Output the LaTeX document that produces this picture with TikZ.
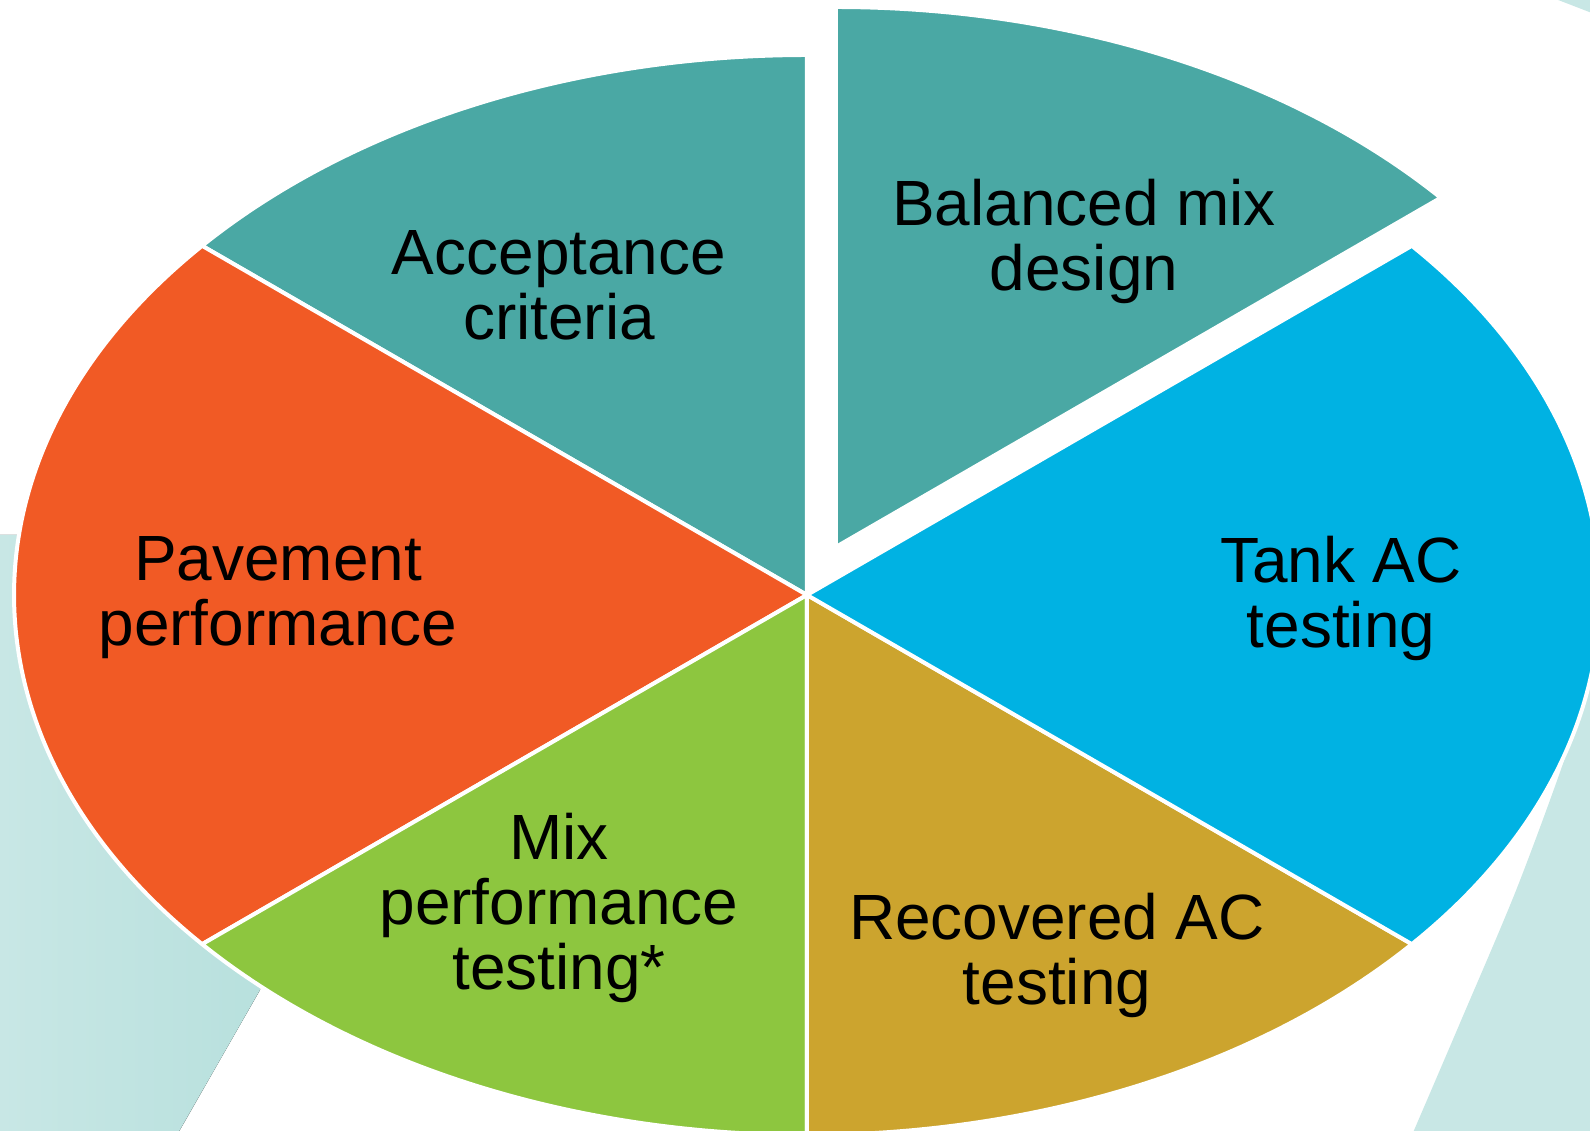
\documentclass[tikz,border=0pt]{standalone}
\usepackage{fontspec}
\setmainfont{Liberation Sans}

\definecolor{accteal}{HTML}{4AA8A4}
\definecolor{pavorange}{HTML}{F15A25}
\definecolor{mixgreen}{HTML}{8DC63F}
\definecolor{recgold}{HTML}{CCA42E}
\definecolor{tankblue}{HTML}{00B2E3}
\definecolor{ringlight}{HTML}{C8E7E5}
\definecolor{ringdark}{HTML}{B5DFDC}

\begin{document}
\begin{tikzpicture}[
x=0.02cm,
y=0.02cm,
slice/.style={
  draw=white,
  line width=0.08cm,
  line join=round
  },
ring/.style={
  fill=ringlight,
  draw=none
  },
lbl/.style={
  align=center,
  inner sep=0pt,
  font=\fontsize{36.4}{37}\selectfont
  }
]
\useasboundingbox (-807,-536) rectangle (783,595);
\clip (-807,-536) rectangle (783,595);

% ring behind the pie
\fill[left color=ringlight, right color=ringdark]
  (-807,60) -- (-500,60) -- (-547,-395) -- (-630,-540) -- (-807,-540) -- cycle;
\fill[ring] plot[smooth] coordinates {(605,-540) (653,-428) (710,-293) (760,-157) (783,-76) (800,-20)}
  -- (800,-540) -- cycle;
\fill[ring] (746,597) -- (790,597) -- (790,580) -- cycle;

% pie slices
\foreach \sa/\ea/\col in {90/139.71/accteal, 139.71/220.29/pavorange, 220.29/270/mixgreen,
  270/319.71/recgold, 319.71/400.29/tankblue}
  \draw[slice, fill=\col] (0,0) -- (\sa:793 and 540)
    arc[start angle=\sa, end angle=\ea, x radius=793, y radius=540] -- cycle;

\draw[slice, fill=accteal, shift={(59:56)}] (0,0) -- (40.29:793 and 540)
  arc[start angle=40.29, end angle=90, x radius=793, y radius=540] -- cycle;

\node[lbl] (accept) at (-248,310) {Acceptance\\criteria};
\node[lbl] (balanced) at (277,354) {Balanced mix\\design};
\node[lbl] (tank) at (534,-3) {Tank AC\\testing};
\node[lbl] (recovered) at (250,-360) {Recovered AC\\testing};
\node[lbl] (mix) at (-248,-313) {Mix\\performance\\testing*};
\node[lbl] (pavement) at (-529,-3) {Pavement\\performance};

\end{tikzpicture}
\end{document}
